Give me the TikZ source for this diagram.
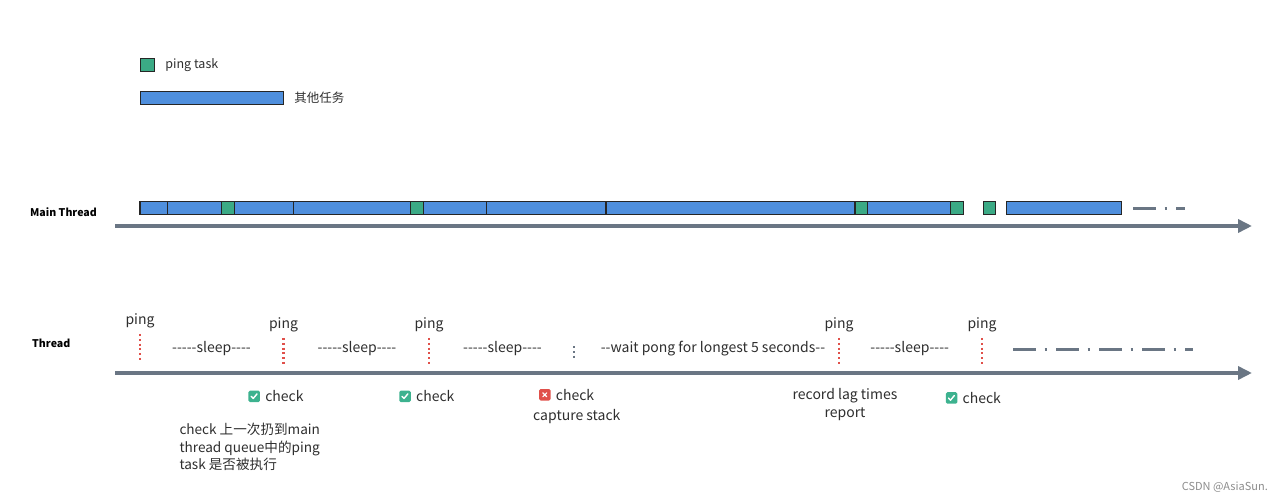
\documentclass[tikz,border=0pt]{standalone}
\usepackage{fontspec}
\setmainfont{Noto Sans CJK SC}[Ligatures=TeXOff]
\usepackage{tikz}
\usetikzlibrary{arrows.meta,positioning}
\definecolor{taskblue}{HTML}{4F8FDD}
\definecolor{pinggreen}{HTML}{3BAA85}
\definecolor{axisgray}{HTML}{6A7684}
\definecolor{pingred}{HTML}{E0504A}
\definecolor{okgreen}{HTML}{3DB28F}
\definecolor{txt}{HTML}{2E2E2E}
\tikzset{
  tl/other/.style={draw=black!85, line width=1.2pt, fill=taskblue},
  tl/ping/.style={draw=black!85, line width=1.2pt, fill=pinggreen},
  tl/axis/.style={draw=axisgray, line width=4.5pt, -{Triangle[length=14pt,width=13pt]}},
  tl/more/.style={draw=axisgray, line width=2.5pt, dash pattern=on 23pt off 8.5pt on 2pt off 9.5pt},
  tl/mark/.style={draw=pingred, line width=2.2pt, dash pattern=on 2pt off 2.8pt},
  tl/wait/.style={draw=axisgray, line width=2pt, dash pattern=on 2pt off 2.6pt},
  tl/label/.style={font=\fontsize{14}{17.5}\selectfont, text=txt, inner sep=0pt},
  tl/legend/.style={font=\fontsize{12.5}{15}\selectfont, text=txt, inner sep=0pt},
  tl/thread/.style={font=\fontsize{10.6}{13}\selectfont\bfseries, text=black, inner sep=0pt, anchor=west},
  tl/ok/.style={fill=okgreen, rounded corners=1.5pt, minimum size=11.5pt, inner sep=0pt},
  tl/fail/.style={tl/ok, fill=pingred},
  tl/tick/.style={draw=white, line width=1.4pt, line cap=round, line join=round}
}

\begin{document}
\begin{tikzpicture}[x=1pt, y=-1pt]
  \useasboundingbox (0,0) rectangle (1280,502);

  % Legend
  \node[tl/ping, minimum width=14pt, minimum height=13pt, anchor=north west] (lgping) at (140,58) {};
  \node[tl/legend, right=10pt of lgping] (lgpingtxt) {ping task};
  \node[tl/other, minimum width=143pt, minimum height=13pt, anchor=north west] (lgother) at (140,91) {};
  \node[tl/legend, right=10pt of lgother] (lgothertxt) {其他任务};

  % Main thread
  \node[tl/thread] (mainlbl) at (30,212) {Main Thread};
  \foreach \a/\b in {140/167.7, 167.7/221.7, 234.3/293.3, 293.3/410.7, 423.3/486.7,
                     486.7/606, 606/855, 867.5/950.7, 1006.7/1121.7}
    \draw[tl/other] (\a,201.5) rectangle (\b,214.5);
  \foreach \a/\b in {221.7/234.3, 410.7/423.3, 855/867.5, 950.7/963.3, 983.3/995.7}
    \draw[tl/ping] (\a,201.5) rectangle (\b,214.5);
  \coordinate (mmore) at (1133,208.3);
  \coordinate (mmoreend) at (1185,208.3);
  \draw[tl/more] (mmore) -- (mmoreend);
  \coordinate (mstart) at (115,226);
  \coordinate (mend) at (1252,226);
  \draw[tl/axis] (mstart) -- (mend);

  % Watchdog thread
  \node[tl/thread] (threadlbl) at (32,343) {Thread};
  \foreach \x/\y/\n in {140/321/1, 283.5/325/2, 429/325/3, 839/325/4, 982/325/5} {
    \node[tl/label] (ping\n) at (\x,\y) {ping};
    \draw[tl/mark] (\x,\y+13) -- (\x,\y+39);
  }
  \node[tl/label] (sleep1) at (211.5,348.5) {-----sleep----};
  \node[tl/label] (sleep2) at (357,348.5) {-----sleep----};
  \node[tl/label] (sleep3) at (502.5,348.5) {-----sleep----};
  \draw[tl/wait] (574,346.5) -- (574,358);
  \node[tl/label] (wait) at (713,348.5) {--wait pong for longest 5 seconds--};
  \node[tl/label] (sleep4) at (909.7,348.5) {-----sleep----};
  \coordinate (tmore) at (1013,349.3);
  \coordinate (tmoreend) at (1193,349.3);
  \draw[tl/more] (tmore) -- (tmoreend);
  \coordinate (tstart) at (115,373);
  \coordinate (tend) at (1252,373);
  \draw[tl/axis] (tstart) -- (tend);

  % Checks
  \node[tl/ok] (ok1) at (254.2,396.3) {};
  \node[tl/label, right=5pt of ok1] (chk1) {check};
  \node[tl/ok] (ok2) at (405,396.3) {};
  \node[tl/label, right=5pt of ok2] (chk2) {check};
  \node[tl/fail] (bad) at (544.8,394.8) {};
  \node[tl/label, right=5pt of bad] (chk3) {check};
  \node[tl/ok] (ok3) at (951.5,398) {};
  \node[tl/label, right=5pt of ok3] (chk5) {check};
  \foreach \n in {ok1, ok2, ok3}
    \draw[tl/tick] ([shift={(-3,0)}]\n.center) -- ++(2,2.2) -- ++(3.8,-4.6);
  \draw[tl/tick, line width=1.2pt] ([shift={(-2,-2)}]bad.center) -- ++(4,4)
                                   ([shift={(-2,2)}]bad.center) -- ++(4,-4);

  \node[tl/label] (capture) at (576.8,416.7) {capture stack};
  \node[tl/label, align=center] (record) at (845,404.5) {record lag times\\report};
  \node[tl/label, align=left, anchor=north west, font=\fontsize{13.6}{17.5}\selectfont] (note) at (179.3,423)
    {check 上一次扔到main\\thread queue中的ping\\task 是否被执行};

  \node[font=\fontsize{11}{13}\selectfont, text=black!45, anchor=east, inner sep=0pt] (mark) at (1268,487) {CSDN @AsiaSun.};
\end{tikzpicture}
\end{document}
